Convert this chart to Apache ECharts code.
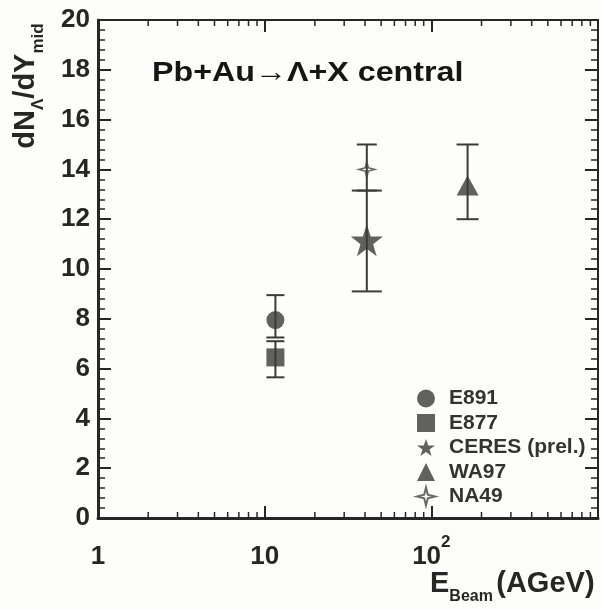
<!DOCTYPE html>
<html><head><meta charset="utf-8">
<script src="https://cdn.jsdelivr.net/npm/echarts@6/dist/echarts.min.js"></script>
<style>html,body{margin:0;padding:0;background:#fdfdfb}#c{width:601px;height:609px}</style>
</head><body><div id="c"></div>
<script>
// ---- data ----
const seriesNames = ['E891', 'E877', 'CERES (prel.)', 'WA97', 'NA49'];
// each point: [E_beam (AGeV), dN/dY, lower error end, upper error end]
const e891 = [[11.6, 7.95, 7.25, 8.95]];
const e877 = [[11.6, 6.45, 5.65, 7.1]];
const ceres = [[41, 11.15, 9.1, 13.15]];
const wa97 = [[165, 13.35, 12.0, 15.0]];
const na49 = [[41, 14.0, 13.15, 15.0]];
const yTicks = [0, 2, 4, 6, 8, 10, 12, 14, 16, 18, 20];
const xMajorTicks = [1, 10, 100, 1000];
const xMinorTicks = [2,3,4,5,6,7,8,9,20,30,40,50,60,70,80,90,200,300,400,500,600,700,800,900];
const titleText = 'Pb+Au\u2192\u039b+X central';

const INK = '#262626';
const MARK = '#3a3a3a';
const FONT = 'Liberation Sans';

const chart = echarts.init(document.getElementById('c'), null, {renderer: 'canvas'});

function errRender(capHalf) {
  return function (params, api) {
    const x = api.value(0), lo = api.value(2), hi = api.value(3);
    const a = api.coord([x, lo]), b = api.coord([x, hi]);
    const st = {stroke: MARK, lineWidth: 2};
    return {type: 'group', children: [
      {type: 'line', shape: {x1: a[0], y1: a[1], x2: b[0], y2: b[1]}, style: st},
      {type: 'line', shape: {x1: a[0] - capHalf, y1: a[1], x2: a[0] + capHalf, y2: a[1]}, style: st},
      {type: 'line', shape: {x1: b[0] - capHalf, y1: b[1], x2: b[0] + capHalf, y2: b[1]}, style: st}
    ]};
  };
}
function errSeries(data, capHalf) {
  return {type: 'custom', data: data, encode: {x: 0, y: 1}, renderItem: errRender(capHalf), z: 2, silent: true};
}

const starPath = 'path://M50,0 L61.8,34.5 L97.6,34.5 L68.8,55.9 L79.4,90.5 L50,69.1 L20.6,90.5 L31.2,55.9 L2.4,34.5 L38.2,34.5 Z';
const star4Path = 'path://M50,0 L60,40 L100,50 L60,60 L50,100 L40,60 L0,50 L40,40 Z';

const minorTickSeries = {
  type: 'custom',
  xAxisIndex: 1, yAxisIndex: 1,
  data: xMinorTicks.map(v => [v, 0]),
  encode: {x: 0, y: 1},
  silent: true,
  clip: false,
  renderItem: function (params, api) {
    const v = api.value(0);
    const b = api.coord([v, 0]), t = api.coord([v, 20]);
    const st = {stroke: INK, lineWidth: 1.5};
    return {type: 'group', children: [
      {type: 'line', shape: {x1: b[0], y1: b[1], x2: b[0], y2: b[1] - 6}, style: st},
      {type: 'line', shape: {x1: t[0], y1: t[1], x2: t[0], y2: t[1] + 6}, style: st}
    ]};
  }
};

function xLabel(v) {
  if (v === 1) return '{b|1}';
  if (v === 10) return '{b|10}';
  if (v === 100) return '{b|10}{s|2}';
  return '';
}

const option = {
  backgroundColor: '#fdfdfb',
  animation: false,
  grid: {left: 98, right: 3, top: 20, bottom: 91},
  xAxis: [{
    type: 'log', logBase: 10, min: 1, max: 1000,
    axisLine: {lineStyle: {color: INK, width: 3}},
    axisTick: {inside: true, length: 12, lineStyle: {color: INK, width: 2}},
    splitLine: {show: false},
    axisLabel: {
      margin: 16, formatter: xLabel,
      rich: {
        b: {fontFamily: FONT, fontWeight: 'bold', fontSize: 26, color: INK, lineHeight: 36, verticalAlign: 'bottom'},
        s: {fontFamily: FONT, fontWeight: 'bold', fontSize: 17, color: INK, lineHeight: 36, verticalAlign: 'top'}
      }
    }
  }, {
    type: 'log', logBase: 10, min: 1, max: 1000, position: 'top',
    axisLine: {show: true, onZero: false, lineStyle: {color: INK, width: 2}},
    axisTick: {show: true, inside: true, length: 12, lineStyle: {color: INK, width: 2}},
    axisLabel: {show: false}, splitLine: {show: false}
  }],
  yAxis: [{
    type: 'value', min: yTicks[0], max: yTicks[yTicks.length - 1], interval: 2,
    axisLine: {lineStyle: {color: INK, width: 3}},
    axisTick: {inside: true, length: 13, lineStyle: {color: INK, width: 2}},
    minorTick: {show: true, splitNumber: 5, length: 7, lineStyle: {color: INK, width: 1.5}},
    splitLine: {show: false},
    axisLabel: {margin: 8, fontFamily: FONT, fontWeight: 'bold', fontSize: 26, color: INK}
  }, {
    type: 'value', min: yTicks[0], max: yTicks[yTicks.length - 1], interval: 2, position: 'right',
    axisLine: {show: true, onZero: false, lineStyle: {color: INK, width: 2}},
    axisTick: {inside: true, length: 13, lineStyle: {color: INK, width: 2}},
    minorTick: {show: true, splitNumber: 5, length: 7, lineStyle: {color: INK, width: 1.5}},
    splitLine: {show: false}, axisLabel: {show: false}
  }],
  legend: {
    orient: 'vertical', left: 411, top: 383,
    itemWidth: 18, itemHeight: 18, itemGap: 3.5,
    textStyle: {fontFamily: FONT, fontWeight: 'bold', fontSize: 21, lineHeight: 21, color: '#333', padding: [0, 0, 0, 9]},
    data: [
      {name: seriesNames[0], icon: 'circle'},
      {name: seriesNames[1], icon: 'rect'},
      {name: seriesNames[2], icon: starPath},
      {name: seriesNames[3], icon: 'triangle'},
      {name: seriesNames[4], icon: star4Path}
    ]
  },
  graphic: [
    {type: 'text', left: 152, top: 59, scaleX: 1.15,
      style: {text: titleText, font: 'bold 28px "Liberation Sans"', fill: '#151515'}},
    {type: 'text', x: 29, y: 86, rotation: Math.PI / 2,
      style: {
        text: '{b|dN}{s|\u039b}{b|/dY}{s|mid}', align: 'center', verticalAlign: 'middle',
        rich: {
          b: {fontFamily: FONT, fontWeight: 'bold', fontSize: 29, fill: INK, lineHeight: 36, verticalAlign: 'top'},
          s: {fontFamily: FONT, fontWeight: 'bold', fontSize: 17, fill: INK, lineHeight: 36, verticalAlign: 'bottom'}
        }
      }},
    {type: 'text', left: 430, top: 569,
      style: {
        text: '{b|E}{s|Beam} {b|(AGeV)}',
        rich: {
          b: {fontFamily: FONT, fontWeight: 'bold', fontSize: 29, fill: INK, lineHeight: 36, verticalAlign: 'top'},
          s: {fontFamily: FONT, fontWeight: 'bold', fontSize: 16, fill: INK, lineHeight: 36, verticalAlign: 'bottom'}
        }
      }}
  ],
  series: [
    minorTickSeries,
    errSeries(e891, 9), errSeries(e877, 9), errSeries(ceres, 15), errSeries(wa97, 11), errSeries(na49, 10),
    {name: seriesNames[0], type: 'scatter', data: e891, symbol: 'circle', symbolSize: 18, itemStyle: {color: MARK}, z: 3},
    {name: seriesNames[1], type: 'scatter', data: e877, symbol: 'rect', symbolSize: 18, itemStyle: {color: MARK}, z: 3},
    {name: seriesNames[2], type: 'scatter', data: ceres, symbol: starPath, symbolSize: 32, itemStyle: {color: MARK}, z: 3},
    {name: seriesNames[3], type: 'scatter', data: wa97, symbol: 'triangle', symbolSize: [22, 20], itemStyle: {color: MARK}, z: 3},
    {name: seriesNames[4], type: 'scatter', data: na49, symbol: star4Path, symbolSize: 16, itemStyle: {color: 'rgba(0,0,0,0)', borderColor: '#444', borderWidth: 1.5}, z: 3}
  ]
};
chart.setOption(option);
</script></body></html>
